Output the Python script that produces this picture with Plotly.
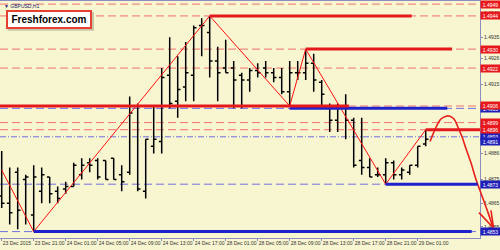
import plotly.graph_objects as go

# ---------------- data (GBPUSD H1) ----------------
open_ = [1.4868, 1.4865, 1.4878, 1.4875, 1.4860, 1.4870, 1.4876, 1.4870, 1.4871, 1.4872,
         1.4877, 1.4882, 1.4883, 1.4883, 1.4884, 1.4877, 1.4878, 1.4906, 1.4870, 1.4889,
         1.4891, 1.4919, 1.4908, 1.4914, 1.4919, 1.4940, 1.4937, 1.4925, 1.4922, 1.4922,
         1.4919, 1.4917, 1.4921, 1.4922, 1.4920, 1.4918, 1.4912, 1.4920, 1.4920, 1.4924,
         1.4916, 1.4906, 1.4900, 1.4905, 1.4900, 1.4883, 1.4880, 1.4877, 1.4877, 1.4882,
         1.4877, 1.4878, 1.4881, 1.4890]
high = [1.4887, 1.4880, 1.4880, 1.4877, 1.4881, 1.4880, 1.4876, 1.4872, 1.4874, 1.4882,
        1.4884, 1.4884, 1.4884, 1.4883, 1.4884, 1.4881, 1.4910, 1.4907, 1.4892, 1.4906,
        1.4922, 1.4935, 1.4927, 1.4933, 1.4940, 1.4943, 1.4944, 1.4931, 1.4934, 1.4925,
        1.4920, 1.4922, 1.4924, 1.4925, 1.4922, 1.4922, 1.4925, 1.4925, 1.4930, 1.4928,
        1.4917, 1.4907, 1.4907, 1.4911, 1.4901, 1.4901, 1.4884, 1.4880, 1.4884, 1.4883,
        1.4880, 1.4881, 1.4889, 1.4896]
low = [1.4863, 1.4856, 1.4854, 1.4856, 1.4853, 1.4865, 1.4865, 1.4865, 1.4869, 1.4872,
       1.4875, 1.4878, 1.4875, 1.4875, 1.4875, 1.4870, 1.4877, 1.4870, 1.4867, 1.4886,
       1.4886, 1.4905, 1.4901, 1.4908, 1.4908, 1.4927, 1.4918, 1.4908, 1.4920, 1.4905,
       1.4905, 1.4912, 1.4918, 1.4918, 1.4916, 1.4911, 1.4906, 1.4917, 1.4917, 1.4912,
       1.4906, 1.4895, 1.4895, 1.4892, 1.4880, 1.4877, 1.4876, 1.4876, 1.4873, 1.4875,
       1.4875, 1.4877, 1.4880, 1.4889]
close = [1.4865, 1.4861, 1.4862, 1.4876, 1.4876, 1.4877, 1.4869, 1.4867, 1.4872, 1.4881,
         1.4881, 1.4881, 1.4876, 1.4875, 1.4875, 1.4874, 1.4903, 1.4871, 1.4892, 1.4892,
         1.4918, 1.4907, 1.4913, 1.4920, 1.4939, 1.4940, 1.4925, 1.4920, 1.4920, 1.4917,
         1.4917, 1.4921, 1.4920, 1.4920, 1.4918, 1.4912, 1.4920, 1.4920, 1.4924, 1.4917,
         1.4911, 1.4900, 1.4905, 1.4900, 1.4881, 1.4880, 1.4876, 1.4877, 1.4882, 1.4877,
         1.4879, 1.4881, 1.4889, 1.4892]

tick_pos = [0, 4, 8, 12, 16, 20, 24, 28, 32, 36, 40, 44, 48, 52]
tick_text = ["23 Dec 2015", "23 Dec 21:00", "24 Dec 01:00", "24 Dec 05:00", "24 Dec 09:00",
             "24 Dec 13:00", "24 Dec 17:00", "28 Dec 01:00", "28 Dec 05:00", "28 Dec 09:00",
             "28 Dec 13:00", "28 Dec 17:00", "28 Dec 21:00", "29 Dec 01:00"]

price_ticks = [1.4945, 1.4935, 1.4926, 1.4915, 1.4906, 1.4895, 1.4886, 1.4875, 1.4865, 1.4855]

red_dashed_levels = [1.4949, 1.4944, 1.4930, 1.4922, 1.4906, 1.4899, 1.4896]
blue_dashed_levels = [1.4905, 1.4873, 1.4853]
blue_dashdot_levels = [1.4893]

res_levels = [1.4944, 1.4930, 1.4906, 1.4896]
res_start = [26, 38, -0.3, 53]
res_end = [51.25, 56.3, 43.4, 59.8]
sup_levels = [1.4905, 1.4873, 1.4853]
sup_start = [36, 48, 4]
sup_end = [55.7, 59.5, 58.75]

zigzag_idx = [0, 4, 26, 36, 38, 48, 53]
zigzag_price = [1.4879, 1.4853, 1.4944, 1.4906, 1.4930, 1.4873, 1.4896]

forecast_idx = [53.54, 54.29, 54.91, 55.54, 56.04, 56.54, 57.04, 57.54, 58.04, 58.66,
                59.29, 60.04, 60.79, 61.45]
forecast_price = [1.4891, 1.4897, 1.49005, 1.49017, 1.49017, 1.49005, 1.4897, 1.4893,
                  1.4888, 1.4882, 1.4875, 1.4868, 1.4861, 1.48545]
arrow_idx = [59.66, 61.48, 61.16]
arrow_price = [1.4861, 1.48545, 1.4862]

red_labels = [1.4949, 1.4944, 1.4930, 1.4922, 1.4906, 1.4899, 1.4896]
blue_labels = [1.4905, 1.4893, 1.4891, 1.4873, 1.4853]

# ---------------- styling ----------------
bg = "#F8F6D0"
axis_col = "#8C8CC0"
red_dash = "#F27070"
red_thick = "#E3191C"
blue_dash = "#6F6FE0"
blue_thick = "#1F22CC"
x_min, x_max = -0.2125, 59.7875
main_frac = 0.96
x2_max = x_min + (x_max - x_min) / main_frac
y_min, y_max = 1.48503, 1.49503

fig = go.Figure()

fig.add_trace(go.Ohlc(
    x=list(range(len(open_))), open=open_, high=high, low=low, close=close,
    increasing=dict(line=dict(color="black", width=1.5)),
    decreasing=dict(line=dict(color="black", width=1.5)),
    tickwidth=0.35, hoverinfo="skip", xaxis="x", yaxis="y"))

fig.add_trace(go.Scatter(x=zigzag_idx, y=zigzag_price, mode="lines",
                         line=dict(color="#FF1010", width=1), hoverinfo="skip",
                         xaxis="x", yaxis="y"))

fig.add_trace(go.Scatter(x=forecast_idx, y=forecast_price, mode="lines",
                         line=dict(color="#E8201A", width=1.6, shape="spline"),
                         hoverinfo="skip", xaxis="x2", yaxis="y2"))
fig.add_trace(go.Scatter(x=arrow_idx, y=arrow_price, mode="lines",
                         line=dict(color="#E8201A", width=1.6),
                         hoverinfo="skip", xaxis="x2", yaxis="y2"))

shapes = []
for lv in red_dashed_levels:
    shapes.append(dict(type="line", xref="x domain", yref="y", x0=0, x1=1, y0=lv, y1=lv,
                       line=dict(color=red_dash, width=1, dash="8px,4px"), layer="below"))
for lv in blue_dashed_levels:
    shapes.append(dict(type="line", xref="x domain", yref="y", x0=0, x1=1, y0=lv, y1=lv,
                       line=dict(color=blue_dash, width=1, dash="8px,4px"), layer="below"))
for lv in blue_dashdot_levels:
    shapes.append(dict(type="line", xref="x domain", yref="y", x0=0, x1=1, y0=lv, y1=lv,
                       line=dict(color=blue_dash, width=1, dash="6px,2px,1px,2px"), layer="below"))
for lv, a, b in zip(sup_levels, sup_start, sup_end):
    shapes.append(dict(type="line", xref="x", yref="y", x0=a, x1=b, y0=lv, y1=lv,
                       line=dict(color=blue_thick, width=3), layer="above"))
for lv, a, b in zip(res_levels, res_start, res_end):
    shapes.append(dict(type="line", xref="x", yref="y", x0=a, x1=b, y0=lv, y1=lv,
                       line=dict(color=red_thick, width=3), layer="above"))
# logo drop shadow
shapes.append(dict(type="rect", xref="paper", yref="paper", x0=0.016, x1=0.188,
                   y0=0.874, y1=0.954, fillcolor="#C8C6A8", line=dict(width=0),
                   layer="above"))

annotations = []
for lv in blue_labels:
    annotations.append(dict(xref="x domain", yref="y", x=1, y=lv, xanchor="left",
                            yanchor="middle", text=f"{lv:.4f}", showarrow=False,
                            bgcolor="#2020B8", font=dict(size=5, color="white",
                            family="Liberation Sans"), width=17, height=5, borderpad=1))
for lv in red_labels:
    annotations.append(dict(xref="x domain", yref="y", x=1, y=lv, xanchor="left",
                            yanchor="middle", text=f"{lv:.4f}", showarrow=False,
                            bgcolor="#E8191C", font=dict(size=5, color="white",
                            family="Liberation Sans"), width=17, height=5, borderpad=1))

annotations.append(dict(xref="paper", yref="paper", x=0.004, y=0.998, xanchor="left",
                        yanchor="top", text="▼ GBPUSD,H1", showarrow=False,
                        font=dict(size=5, color="#202070", family="Liberation Sans")))
annotations.append(dict(xref="paper", yref="paper", x=0.012, y=0.963, xanchor="left",
                        yanchor="top", text="<b>Freshforex.com</b>", showarrow=False,
                        bgcolor="white", font=dict(size=10, color="black",
                        family="Liberation Sans"), width=80, height=13, borderpad=1,
                        bordercolor="#E84030", borderwidth=2))

fig.update_layout(
    width=500, height=250, margin=dict(l=0, r=0, t=1, b=12),
    paper_bgcolor=bg, plot_bgcolor="rgba(0,0,0,0)", showlegend=False,
    shapes=shapes, annotations=annotations,
    xaxis=dict(domain=[0, main_frac], range=[x_min, x_max], tickvals=tick_pos,
               ticktext=tick_text, ticklabelposition="outside right", ticks="outside",
               ticklen=2, tickcolor=axis_col, showline=True, linecolor=axis_col,
               mirror=True, showgrid=False, zeroline=False, tickangle=0,
               rangeslider=dict(visible=False), anchor="y",
               tickfont=dict(size=5, color="#333333", family="Liberation Sans")),
    yaxis=dict(range=[y_min, y_max], side="right", tickvals=price_ticks,
               ticktext=[f"{v:.4f}" for v in price_ticks], ticks="outside", ticklen=2,
               tickcolor=axis_col, showline=True, linecolor=axis_col, showgrid=False,
               zeroline=False, anchor="x",
               tickfont=dict(size=5, color="#333333", family="Liberation Sans")),
    xaxis2=dict(domain=[0, 1], range=[x_min, x2_max], visible=False, anchor="y2"),
    yaxis2=dict(domain=[0, 1], range=[y_min, y_max], visible=False, anchor="x2"),
)

fig.write_html("out.html")
